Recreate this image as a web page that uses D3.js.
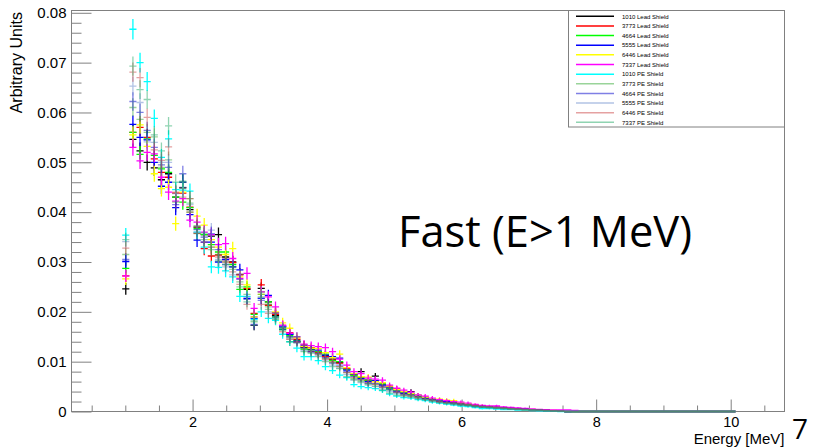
<!DOCTYPE html>
<html>
<head>
<meta charset="utf-8">
<script src="https://cdnjs.cloudflare.com/ajax/libs/d3/7.8.5/d3.min.js"></script>
<style>
    body { margin: 0; background: #fff; }
    svg { display: block; }
    .axis text { font-family: "Liberation Sans", Arial, sans-serif; font-size: 15px; fill: #000; }
    .axis.x-axis text { font-size: 14.5px; }
    .axis line { stroke: #808080; }
    .axis path { display: none; }
</style>
</head>
<body>
<div id="chart"></div>
<script>
// binning of the histograms: 0.106 MeV bins from 0, first filled bin is #9 (E > 1 MeV cut)
const binWidth = 0.106;
const firstBin = 9;
const lastBin = 94;

// bin contents, in units of 1e-3, from firstBin on (bins past the end are empty)
const lead1010 = [24.6, 54.6, 52.3, 50.0, 48.9, 46.5, 47.7,
    43.0, 44.9, 40.5, 37.0, 35.5, 35.2, 35.5, 31.0, 30.0, 27.5,
    24.5, 17.3, 24.7, 22.0, 19.3, 17.0, 15.5, 14.0, 12.8, 12.4,
    12.0, 11.2, 10.5, 9.8, 8.5, 7.4, 8.0, 6.3, 7.1, 5.5,
    4.8, 4.3, 3.9, 4.0, 3.2, 2.8, 2.5, 2.2, 2.0, 1.8,
    1.6, 1.4, 1.2, 1.0, 0.9, 0.8, 0.7, 0.6, 0.5, 0.45,
    0.35, 0.3, 0.2, 0.15, 0.1];
const lead3773 = [27.2, 56.0, 57.0, 55.0, 50.7, 48.0, 47.0,
    43.8, 43.8, 41.0, 35.8, 32.7, 31.2, 31.4, 30.5, 29.9, 27.4,
    24.7, 19.7, 25.4, 21.3, 19.5, 17.3, 15.8, 14.5, 13.0, 12.8,
    11.8, 11.0, 10.3, 9.7, 8.6, 7.3, 6.8, 6.2, 6.0, 5.4,
    4.7, 4.6, 3.7, 3.5, 3.1, 2.9, 2.5, 2.2, 2.0, 1.8,
    1.6, 1.4, 1.2, 1.1, 0.9, 0.8, 0.7, 0.6, 0.5, 0.45,
    0.35, 0.3, 0.2, 0.15, 0.1];
const lead4664 = [28.7, 56.0, 51.6, 54.7, 51.4, 48.7, 48.0,
    43.0, 42.0, 40.9, 36.7, 35.5, 33.5, 32.0, 32.0, 29.5, 24.5,
    25.0, 19.5, 24.0, 22.0, 19.0, 16.5, 15.2, 14.2, 12.5, 12.5,
    12.0, 11.5, 10.2, 10.0, 8.4, 7.2, 6.9, 6.3, 6.1, 5.5,
    4.6, 4.2, 3.8, 3.5, 3.1, 2.8, 2.4, 2.2, 1.9, 1.7,
    1.5, 1.4, 1.2, 1.0, 0.9, 0.8, 0.7, 0.6, 0.5, 0.4,
    0.35, 0.25, 0.2, 0.1, 0.05];
const lead5555 = [30.1, 57.6, 55.0, 54.5, 50.0, 45.2, 46.0,
    40.9, 46.0, 39.5, 34.4, 34.0, 34.0, 30.0, 30.5, 29.0, 28.4,
    22.7, 18.7, 22.7, 23.3, 19.8, 17.0, 15.5, 14.0, 13.3, 12.0,
    12.3, 11.3, 11.0, 10.7, 8.3, 7.5, 6.6, 6.0, 6.2, 5.3,
    4.8, 4.1, 3.7, 3.6, 3.3, 2.7, 2.5, 2.1, 2.0, 1.7,
    1.5, 1.3, 1.1, 1.0, 0.9, 0.8, 0.7, 0.6, 0.5, 0.45,
    0.35, 0.3, 0.2, 0.15, 0.1];
const lead6446 = [26.6, 55.5, 57.5, 53.2, 47.7, 44.7, 45.0,
    37.7, 44.0, 40.0, 39.2, 37.4, 34.5, 33.0, 31.5, 32.7, 27.0,
    25.4, 19.0, 23.5, 21.5, 20.0, 17.8, 16.7, 14.8, 13.0, 12.7,
    12.6, 11.8, 10.8, 11.5, 8.8, 7.6, 7.0, 6.9, 6.0, 5.8,
    5.0, 4.4, 4.0, 3.6, 3.3, 2.9, 2.6, 2.5, 2.3, 2.2,
    1.8, 1.5, 1.3, 1.1, 1.0, 0.8, 0.7, 0.6, 0.5, 0.5,
    0.4, 0.3, 0.25, 0.2, 0.1, 0.05];
const lead7337 = [27.2, 53.0, 50.3, 52.0, 51.7, 47.0, 44.0,
    42.2, 42.7, 38.4, 38.0, 36.0, 35.5, 33.5, 33.7, 30.7, 26.7,
    27.7, 20.7, 24.0, 23.0, 21.0, 17.3, 15.7, 15.0, 13.5, 13.2,
    13.0, 12.8, 12.0, 10.5, 9.3, 8.0, 7.6, 6.7, 6.5, 6.3,
    5.3, 4.7, 4.3, 3.9, 3.3, 3.1, 2.7, 2.4, 2.2, 2.0,
    1.9, 1.7, 1.4, 1.2, 1.1, 1.1, 0.9, 0.8, 0.7, 0.6,
    0.5, 0.4, 0.35, 0.3, 0.3, 0.3, 0.2];
const pe1010 = [35.4, 76.7, 70.0, 66.2, 58.8, 51.0, 54.7,
    44.5, 44.4, 44.2, 36.0, 33.0, 29.0, 28.9, 28.2, 27.0, 23.1,
    23.1, 18.5, 20.0, 18.7, 18.3, 15.5, 14.0, 12.7, 11.0, 11.0,
    10.2, 9.0, 8.2, 7.3, 6.8, 5.4, 5.0, 4.8, 4.6, 4.2,
    3.5, 3.1, 2.8, 2.7, 2.4, 2.2, 1.9, 1.7, 1.5, 1.3,
    1.1, 1.0, 0.8, 0.6, 0.6, 0.5, 0.4, 0.4, 0.3, 0.3,
    0.2, 0.15, 0.1, 0.05];
const pe3773 = [31.5, 61.0, 58.6, 56.0, 55.1, 49.0, 50.5,
    42.0, 46.0, 42.7, 37.3, 34.5, 33.0, 31.5, 30.0, 28.5, 26.0,
    23.5, 18.0, 23.0, 21.0, 18.5, 16.8, 14.8, 13.8, 12.5, 12.2,
    11.5, 10.6, 9.8, 9.0, 7.8, 6.6, 6.2, 5.6, 5.5, 4.8,
    4.3, 3.8, 3.4, 3.2, 2.8, 2.5, 2.2, 2.0, 1.8, 1.6,
    1.4, 1.3, 1.1, 0.9, 0.8, 0.7, 0.6, 0.5, 0.45, 0.4,
    0.3, 0.25, 0.2, 0.1, 0.05];
const pe4664 = [30.5, 62.2, 60.0, 56.4, 53.0, 49.5, 49.0,
    41.5, 47.7, 40.0, 36.5, 35.0, 35.7, 32.5, 29.5, 29.0, 26.5,
    22.5, 17.5, 22.3, 21.5, 19.0, 16.5, 15.0, 14.3, 12.8, 12.4,
    11.6, 10.8, 9.7, 9.3, 8.0, 7.0, 6.5, 5.7, 5.6, 5.0,
    4.4, 3.9, 3.5, 3.3, 2.9, 2.6, 2.3, 2.0, 1.8, 1.6,
    1.4, 1.3, 1.1, 1.0, 0.9, 0.8, 0.7, 0.6, 0.5, 0.45,
    0.35, 0.3, 0.2, 0.15, 0.1];
const pe5555 = [34.1, 65.3, 62.0, 54.1, 54.0, 50.0, 50.0,
    43.7, 45.0, 41.5, 36.0, 35.0, 36.4, 30.5, 29.0, 27.4, 27.4,
    23.0, 17.3, 22.8, 20.0, 18.7, 17.0, 14.5, 13.7, 12.2, 11.8,
    11.2, 10.3, 9.3, 8.7, 7.4, 6.3, 5.8, 5.3, 5.0, 4.5,
    4.0, 3.6, 3.2, 3.0, 2.7, 2.4, 2.1, 1.9, 1.7, 1.5,
    1.3, 1.2, 1.0, 0.9, 0.8, 0.7, 0.6, 0.5, 0.4, 0.35,
    0.3, 0.2, 0.15, 0.1, 0.05];
const pe6446 = [32.8, 68.1, 67.0, 59.0, 52.5, 50.4, 53.1,
    44.0, 43.0, 42.7, 37.0, 34.0, 33.0, 31.0, 30.0, 28.0, 25.5,
    21.5, 19.0, 21.5, 19.7, 19.8, 16.0, 14.5, 14.0, 13.3, 12.0,
    11.5, 10.5, 10.0, 9.0, 7.8, 6.8, 6.4, 5.8, 5.4, 4.9,
    5.1, 3.9, 3.3, 3.1, 2.8, 2.5, 2.3, 2.0, 1.8, 1.7,
    1.5, 1.3, 1.2, 1.0, 0.9, 0.8, 0.7, 0.6, 0.5, 0.4,
    0.35, 0.3, 0.2, 0.15, 0.1];
const pe7337 = [34.5, 69.3, 64.6, 62.6, 55.5, 52.3, 57.3,
    46.0, 46.2, 41.8, 35.7, 35.8, 32.5, 30.2, 29.5, 29.0, 25.0,
    22.0, 18.2, 23.5, 20.5, 18.8, 16.3, 14.0, 15.0, 12.0, 11.7,
    11.0, 10.0, 9.0, 8.6, 7.0, 6.4, 6.0, 5.5, 5.1, 4.3,
    3.7, 3.3, 3.1, 2.9, 2.6, 2.4, 2.1, 1.8, 1.6, 1.5,
    1.3, 1.2, 1.0, 0.9, 0.8, 0.7, 0.6, 0.5, 0.4, 0.35,
    0.3, 0.25, 0.15, 0.1, 0.05];

const seriesValues = [lead1010, lead3773, lead4664, lead5555, lead6446, lead7337,
    pe1010, pe3773, pe4664, pe5555, pe6446, pe7337];
const seriesNames = ["1010 Lead Shield", "3773 Lead Shield", "4664 Lead Shield", "5555 Lead Shield",
    "6446 Lead Shield", "7337 Lead Shield", "1010 PE Shield", "3773 PE Shield", "4664 PE Shield",
    "5555 PE Shield", "6446 PE Shield", "7337 PE Shield"];
const seriesColors = ["#000000", "#ff0000", "#00ff00", "#0000ff", "#ffff00", "#ff00ff",
    "#00ffff", "#33aa33", "#0000cc", "#6688cc", "#cc4444", "#22aa66"];
const seriesOpacity = [1, 1, 1, 1, 1, 1, 1, 0.5, 0.5, 0.5, 0.5, 0.5];

const xTicks = [2, 4, 6, 8, 10];
const xMinorTicks = [0.5, 1, 1.5, 2.5, 3, 3.5, 4.5, 5, 5.5, 6.5, 7, 7.5, 8.5, 9, 9.5, 10.5];
const yTicks = [0, 0.01, 0.02, 0.03, 0.04, 0.05, 0.06, 0.07, 0.08];
const yMinorTicks = d3.range(0.002, 0.0805, 0.002).filter(t => Math.abs(t * 100 - Math.round(t * 100)) > 1e-6);

const unit = 1e-3;
const statScale = 5.5e-5; // error bars ~ sqrt(content)


class SpectrumPlot {
    constructor(parentElement) {
        this.parentElement = parentElement;
        this.initVis();
    }

    initVis() {
        let vis = this;
        vis.margin = {top: 10.5, right: 28.5, bottom: 36.5, left: 71.5};
        vis.width = 813 - vis.margin.left - vis.margin.right;
        vis.height = 448 - vis.margin.top - vis.margin.bottom;

        vis.root = d3.select("#" + vis.parentElement).append("svg")
            .attr("width", 813)
            .attr("height", 448);
        vis.svg = vis.root.append("g")
            .attr("transform", "translate(" + vis.margin.left + "," + vis.margin.top + ")");

        vis.x = d3.scaleLinear().domain([0.2, 10.8]).range([0, vis.width]);
        vis.y = d3.scaleLinear().domain([0, 0.08046]).range([vis.height, 0]);

        // axes (ticks point into the frame)
        vis.svg.append("g").attr("class", "axis")
            .attr("transform", "translate(0," + vis.height + ")")
            .call(d3.axisBottom(vis.x).tickValues(xMinorTicks).tickSize(-6).tickFormat(""));
        vis.svg.append("g").attr("class", "axis x-axis")
            .attr("transform", "translate(0," + vis.height + ")")
            .call(d3.axisBottom(vis.x).tickValues(xTicks).tickSize(-12).tickPadding(5.5).tickFormat(d3.format("d")));
        vis.svg.append("g").attr("class", "axis")
            .call(d3.axisLeft(vis.y).tickValues(yMinorTicks).tickSize(-10).tickFormat(""));
        vis.svg.append("g").attr("class", "axis")
            .call(d3.axisLeft(vis.y).tickValues(yTicks).tickSize(-20).tickPadding(5)
                .tickFormat(d => d === 0 ? "0" : d.toFixed(2)));

        // frame
        vis.svg.append("rect")
            .attr("width", vis.width)
            .attr("height", vis.height)
            .attr("fill", "none")
            .attr("stroke", "#808080")
            .attr("stroke-width", 1);

        // axis titles
        vis.root.append("text")
            .attr("x", 784.5)
            .attr("y", 444)
            .attr("text-anchor", "end")
            .attr("font-family", "Liberation Sans, Arial, sans-serif")
            .attr("font-size", 15)
            .text("Energy [MeV]");
        vis.root.append("text")
            .attr("transform", "translate(22,12) rotate(-90)")
            .attr("text-anchor", "end")
            .attr("font-family", "Liberation Sans, Arial, sans-serif")
            .attr("font-size", 16)
            .text("Arbitrary Units");

        vis.wrangleData();
    }

    wrangleData() {
        let vis = this;
        vis.displayData = seriesValues.map((vals, i) => {
            let bins = [];
            for (let b = firstBin; b <= lastBin; b++) {
                let c = vals[b - firstBin];
                let v = c === undefined ? 0 : c * unit;
                bins.push({
                    e: (b + 0.5) * binWidth,
                    v: v,
                    err: Math.sqrt(v * statScale)
                });
            }
            return {name: seriesNames[i], color: seriesColors[i], opacity: seriesOpacity[i], bins: bins};
        });
        vis.updateVis();
    }

    updateVis() {
        let vis = this;
        let crossPath = d => {
            let p = d3.path();
            d.bins.forEach(b => {
                p.moveTo(vis.x(b.e - binWidth / 2), vis.y(b.v));
                p.lineTo(vis.x(b.e + binWidth / 2), vis.y(b.v));
                if (b.v > 0) {
                    p.moveTo(vis.x(b.e), vis.y(b.v + b.err));
                    p.lineTo(vis.x(b.e), vis.y(b.v - b.err));
                }
            });
            return p.toString();
        };

        vis.svg.selectAll(".series")
            .data(vis.displayData)
            .enter()
            .append("path")
            .attr("class", "series")
            .attr("d", crossPath)
            .attr("fill", "none")
            .attr("stroke", d => d.color)
            .attr("stroke-opacity", d => d.opacity)
            .attr("stroke-width", 1.3);

        // legend
        let lg = vis.root.append("g");
        lg.append("rect")
            .attr("x", 568.5).attr("y", 10.5)
            .attr("width", 216).attr("height", 116.5)
            .attr("fill", "#fff")
            .attr("stroke", "#808080");
        let rows = lg.selectAll(".entry")
            .data(vis.displayData)
            .enter()
            .append("g")
            .attr("transform", (d, i) => "translate(0," + (16.3 + i * 9.64) + ")");
        rows.append("line")
            .attr("x1", 576).attr("x2", 614)
            .attr("stroke", d => d.color)
            .attr("stroke-opacity", d => d.opacity)
            .attr("stroke-width", 1.5);
        rows.append("text")
            .attr("x", 622).attr("y", 2.2)
            .attr("font-family", "Liberation Sans, Arial, sans-serif")
            .attr("font-size", 6)
            .text(d => d.name);

        // slide annotations
        vis.root.append("text")
            .attr("x", 398).attr("y", 247)
            .attr("font-family", "Open Sans, sans-serif")
            .attr("font-size", 43)
            .attr("textLength", 294)
            .attr("lengthAdjust", "spacingAndGlyphs")
            .text("Fast (E>1 MeV)");
        vis.root.append("text")
            .attr("x", 792).attr("y", 439)
            .attr("font-family", "Open Sans, sans-serif")
            .attr("font-size", 28)
            .text("7");
    }
}

new SpectrumPlot("chart");
</script>
</body>
</html>
